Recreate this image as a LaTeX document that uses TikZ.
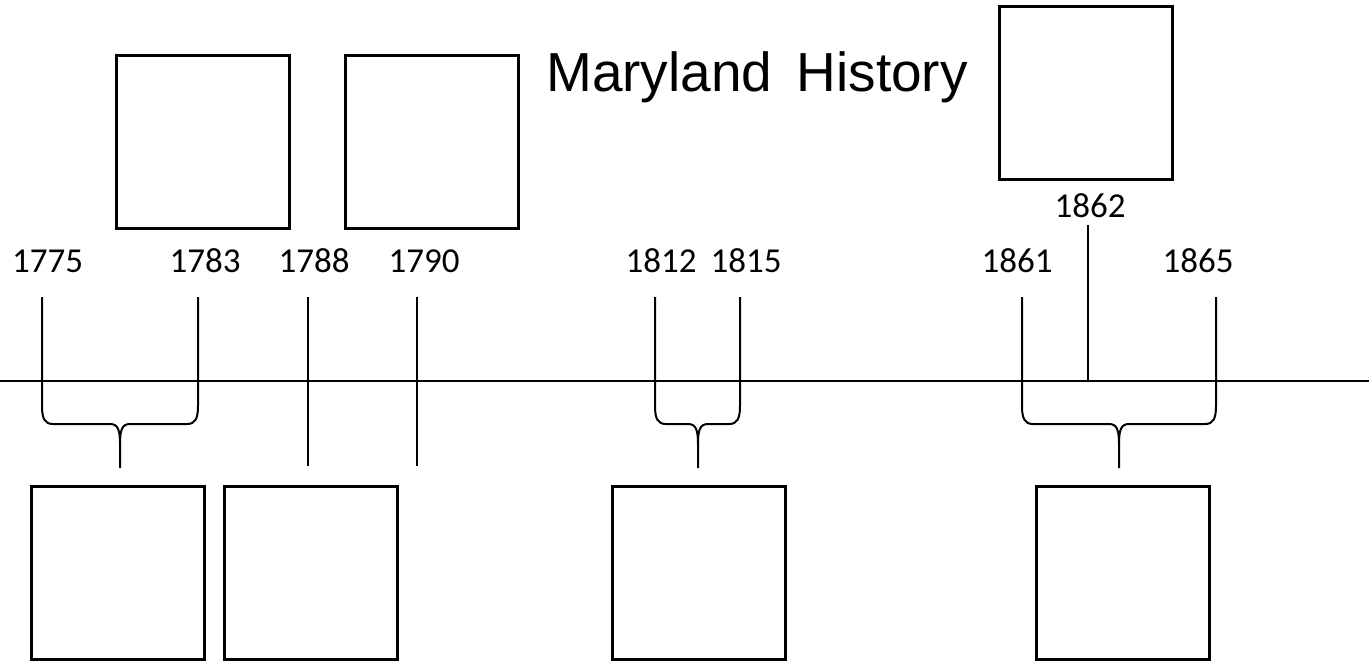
\documentclass[tikz,border=0pt]{standalone}
\usepackage{fontspec}
\setmainfont{Carlito}
\newfontfamily\titlefont{Liberation Sans}
\begin{document}
\begin{tikzpicture}[x=1pt,y=-1pt,
  box/.style={draw=black,line width=3pt,minimum width=173pt,minimum height=173pt,inner sep=0pt},
  year/.style={anchor=base,font=\fontsize{35}{35}\selectfont,inner sep=0pt},
  tick/.style={draw=black,line width=2pt},
  axis/.style={draw=black,line width=2pt}]
\useasboundingbox (0,0) rectangle (1369,666);
% title
\node[anchor=base,inner sep=0pt,font=\titlefont\fontsize{55}{55}\selectfont] (title) at (757,92) {Maryland\hspace{9pt} History};
% boxes
\node[box] (t1) at (202.5,142) {};
\node[box] (t2) at (432,142) {};
\node[box] (t3) at (1085.5,93.5) {};
\node[box] (b1) at (117.5,573) {};
\node[box] (b2) at (310.5,573) {};
\node[box] (b3) at (698.5,573) {};
\node[box] (b4) at (1122.5,573) {};
% axis
\coordinate (axL) at (0,381);
\coordinate (axR) at (1369,381);
\draw[axis] (axL) -- (axR);
% years
\node[year] (y1775) at (47.5,272) {1775};
\node[year] (y1783) at (205,272) {1783};
\node[year] (y1788) at (314,272) {1788};
\node[year] (y1790) at (424,272) {1790};
\node[year] (y1812) at (661,272) {1812};
\node[year] (y1815) at (746,272) {1815};
\node[year] (y1861) at (1017,272) {1861};
\node[year] (y1865) at (1198,272) {1865};
\node[year] (y1862) at (1090,218) {1862};
% simple ticks
\coordinate (c1788a) at (308,297); \coordinate (c1788b) at (308,466);
\coordinate (c1790a) at (417,297); \coordinate (c1790b) at (417,466);
\coordinate (c1862a) at (1088,225); \coordinate (c1862b) at (1088,381);
\draw[tick] (c1788a) -- (c1788b);
\draw[tick] (c1790a) -- (c1790b);
\draw[tick] (c1862a) -- (c1862b);
% braces
\newcommand\tlbrace[3]{%
  \draw[tick,line join=round] (#1,297) -- (#1,406) .. controls (#1,419) and (#1+3,424) .. (#1+11,424)
     -- (#3-10,424) .. controls (#3-2,424) and (#3,430) .. (#3,444) -- (#3,468);
  \draw[tick,line join=round] (#2,297) -- (#2,406) .. controls (#2,419) and (#2-3,424) .. (#2-11,424)
     -- (#3+10,424) .. controls (#3+2,424) and (#3,430) .. (#3,444);
}
\tlbrace{42}{198}{120}
\tlbrace{655}{740}{698}
\tlbrace{1022}{1216}{1119}
\end{tikzpicture}
\end{document}
